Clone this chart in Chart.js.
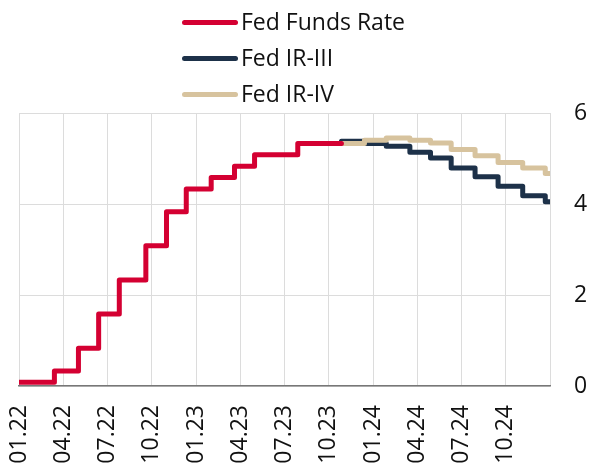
<!DOCTYPE html>
<html>
<head>
<meta charset="utf-8">
<script src="https://cdn.jsdelivr.net/npm/chart.js@4"></script>
<style>
  html, body { margin: 0; padding: 0; background: #fff; }
  #wrap { position: relative; width: 590px; height: 469px; }
  #legend { position: absolute; left: 182px; top: 0; font-family: "Open Sans", sans-serif; font-size: 23px; color: #111; }
  .item { position: absolute; left: 0; height: 36px; line-height: 36px; white-space: nowrap; }
  .swatch { display: inline-block; width: 56px; height: 5px; border-radius: 3px; vertical-align: middle; margin-right: 3px; position: relative; top: -1px; }
</style>
</head>
<body>
<div id="wrap">
  <canvas id="myRates" width="590" height="469"></canvas>
  <div id="legend"></div>
</div>
<script>
// months since 01.2022, value after the step
const fedMonths = [0, 2.4, 4.03, 5.4, 6.8, 8.6, 10.0, 11.34, 13.03, 14.61, 15.97, 18.9, 21.86];
const fedRate = [0.08, 0.33, 0.83, 1.58, 2.33, 3.08, 3.83, 4.33, 4.58, 4.83, 5.08, 5.33, 5.33];

const irMonths = [21.86, 23.42, 24.9, 26.5, 27.9, 29.3, 30.92, 32.48, 34.15, 35.68, 36];
const irIII = [5.38, 5.33, 5.27, 5.14, 5.01, 4.79, 4.6, 4.39, 4.18, 4.05, 4.05];
const irIV = [5.33, 5.4, 5.45, 5.4, 5.34, 5.2, 5.06, 4.91, 4.79, 4.67, 4.67];

const tickLabels = ["01.22", "04.22", "07.22", "10.22", "01.23", "04.23",
  "07.23", "10.23", "01.24", "04.24", "07.24", "10.24"];

const seriesNames = ["Fed Funds Rate", "Fed IR-III", "Fed IR-IV"];
const seriesColors = ["#d40032", "#1d3149", "#d7c39e"];

function toPoints(xs, ys) {
  return xs.map((x, i) => ({ x: x, y: ys[i] }));
}

// legend
const legendEl = document.getElementById("legend");
seriesNames.forEach((name, i) => {
  const row = document.createElement("div");
  row.className = "item";
  row.style.top = (3 + i * 36) + "px";
  row.innerHTML = '<span class="swatch" style="background:' + seriesColors[i] + '"></span>' + name;
  legendEl.appendChild(row);
});

const ctx = document.getElementById("myRates");

const myChart = new Chart(ctx, {
  type: "line",
  data: {
    datasets: [
      {
        label: seriesNames[0],
        data: toPoints(fedMonths, fedRate),
        borderColor: seriesColors[0],
        order: 0,
      },
      {
        label: seriesNames[1],
        data: toPoints(irMonths, irIII),
        borderColor: seriesColors[1],
        order: 1,
      },
      {
        label: seriesNames[2],
        data: toPoints(irMonths, irIV),
        borderColor: seriesColors[2],
        order: 0,
      },
    ].map((d) => Object.assign(d, {
      stepped: true,
      borderWidth: 5,
      pointRadius: 0,
      borderJoinStyle: "round",
      borderCapStyle: "round",
      fill: false,
    })),
  },
  options: {
    responsive: false,
    animation: false,
    layout: {
      padding: { top: 113, left: 19, right: 2, bottom: 4 },
    },
    plugins: {
      legend: { display: false },
      tooltip: { enabled: false },
    },
    scales: {
      x: {
        type: "linear",
        min: 0,
        max: 36,
        grid: { color: "#dcdcdc", lineWidth: 1, drawTicks: false },
        border: { display: true, color: "#777", width: 1.5 },
        ticks: {
          stepSize: 3,
          autoSkip: false,
          minRotation: 90,
          maxRotation: 90,
          padding: 19,
          color: "#111",
          font: { family: "Open Sans", size: 23 },
          callback: (value) => tickLabels[value / 3] || "",
        },
        afterFit: (scale) => {
          scale.height = 79;
          scale.paddingLeft = 0;
          scale.paddingRight = 0;
        },
      },
      y: {
        position: "right",
        min: 0,
        max: 6,
        grid: { color: "#dcdcdc", lineWidth: 1, drawTicks: false },
        border: { display: false },
        ticks: {
          stepSize: 2,
          padding: 24,
          color: "#111",
          font: { family: "Open Sans", size: 23 },
        },
        afterFit: (scale) => {
          scale.width = 38;
        },
      },
    },
  },
});
</script>
</body>
</html>
